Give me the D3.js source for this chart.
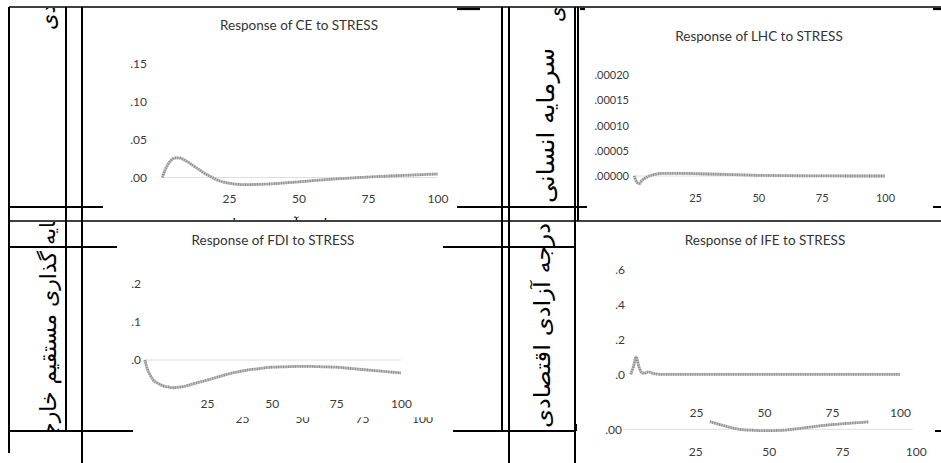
<!DOCTYPE html>
<html>
<head>
<meta charset="utf-8">
<script src="https://cdn.jsdelivr.net/npm/d3@7"></script>
<style>
  body { margin: 0; background: #fff; }
  svg { display: block; }
</style>
</head>
<body>
<svg width="941" height="463"></svg>
<script>
// ---- data ----
const titles = ["Response of CE to STRESS", "Response of LHC to STRESS",
                "Response of FDI to STRESS", "Response of IFE to STRESS"];
const xTicks = [25, 50, 75, 100];

const cePeriods = [1,2,3,4,5,6,7,8,10,12,14,16,18,20,22,25,28,31,35,40,45,50,55,60,65,70,75,80,85,90,95,100];
const ceValues = [0,0.010,0.017,0.022,0.025,0.026,0.026,0.025,0.021,0.016,0.011,0.006,0.002,-0.002,-0.005,
                  -0.0075,-0.009,-0.0095,-0.0092,-0.0085,-0.0072,-0.0058,-0.0042,-0.0028,-0.0015,-0.0004,
                  0.0006,0.0015,0.0023,0.0031,0.0039,0.0046];
const ceYTicks = [0, 0.05, 0.10, 0.15];
const ceYLabels = [".00", ".05", ".10", ".15"];

const lhcPeriods = [1,2,3,4,5,7,9,12,15,20,25,30,40,50,60,70,80,90,100];
const lhcValues = [0,-0.000012,-0.000015,-0.000009,-0.000005,0,0.000003,0.000005,0.0000053,0.0000053,
                   0.0000047,0.000004,0.0000027,0.0000013,0.0000007,0.0000003,0.0000001,0,0];
const lhcYTicks = [0, 0.00005, 0.0001, 0.00015, 0.0002];
const lhcYLabels = [".00000", ".00005", ".00010", ".00015", ".00020"];

const fdiPeriods = [1,2,3,4,6,8,10,12,15,20,25,30,35,40,45,50,55,60,65,70,75,80,85,90,95,100];
const fdiValues = [0,-0.025,-0.039,-0.051,-0.061,-0.068,-0.071,-0.073,-0.071,-0.062,-0.053,-0.043,-0.034,
                   -0.027,-0.023,-0.019,-0.018,-0.017,-0.017,-0.018,-0.019,-0.022,-0.025,-0.028,-0.031,-0.034];
const fdiYTicks = [0, 0.1, 0.2];
const fdiYLabels = [".0", ".1", ".2"];

const ifePeriods = [1,2,3,4,5,6,7,8,9,10,12,15,20,30,40,50,60,70,80,90,100];
const ifeValues = [0,0.044,0.10,0.044,0.010,0.006,0.012,0.013,0.006,0.002,0,0,0,0,0,0,0,0,0,0,0];
const ifeYTicks = [0, 0.2, 0.4, 0.6];
const ifeYLabels = [".0", ".2", ".4", ".6"];

// the half hidden chart under the IFE panel
const ife2Periods = [30,35,40,45,49,54,58,63,68,72,77,84];
const ife2Values = [0.0038,0.0017,0,-0.0005,-0.0007,-0.0005,0,0.0009,0.0018,0.0024,0.0030,0.0037];
const ife2YTicks = [0];
const ife2YLabels = [".00"];

// Persian cell labels
const labelCE = "پیچیدگی اقتصادی";
const labelFDIa = "سرمایه";
const labelFDIb = "گذاری مستقیم خارجی";
const labelLHC = "سرمایه انسانی";
const labelIFE = "درجه آزادی اقتصادی";
const labelStray = "پاسخ آنی متغیرها";

const svg = d3.select("svg");
const latin = "Lato, 'Open Sans', sans-serif";
const farsi = "'DejaVu Sans', sans-serif";

let clipId = 0;
function clipRect(x, y, w, h) {
    const id = "clip" + (clipId++);
    svg.append("clipPath").attr("id", id)
        .append("rect").attr("x", x).attr("y", y).attr("width", w).attr("height", h);
    return "url(#" + id + ")";
}

/////////////PANELS//////////////////

const panels = [
    {title: titles[0], periods: cePeriods, values: ceValues, yTicks: ceYTicks, yLabels: ceYLabels,
     xr: [159.5, 437.5], yr: [177.5, 64], top: 0.15, labelRight: 147, xLabelY: 199,
     tx: 299, ty: 30, fs: 12, zero: true},
    {title: titles[1], periods: lhcPeriods, values: lhcValues, yTicks: lhcYTicks, yLabels: lhcYLabels,
     xr: [631.7, 885], yr: [176, 75], top: 0.0002, labelRight: 629, xLabelY: 198,
     tx: 759, ty: 41, fs: 11, zero: true},
    {title: titles[2], periods: fdiPeriods, values: fdiValues, yTicks: fdiYTicks, yLabels: fdiYLabels,
     xr: [142.3, 401], yr: [360, 284], top: 0.2, labelRight: 141, xLabelY: 404,
     tx: 273, ty: 245, fs: 12, zero: true},
    {title: titles[3], periods: ifePeriods, values: ifeValues, yTicks: ifeYTicks, yLabels: ifeYLabels,
     xr: [628, 900], yr: [374.3, 270], top: 0.6, labelRight: 625, xLabelY: 413,
     tx: 765, ty: 245, fs: 12, zero: false},
    {title: null, periods: ife2Periods, values: ife2Values, yTicks: ife2YTicks, yLabels: ife2YLabels,
     xr: [621.7, 915.7], yr: [429.3, 409.3], top: 0.01, labelRight: 622, xLabelY: 452,
     fs: 12, zero: true, zeroFrom: 0.4, zeroTo: 99}
];

panels.forEach(drawPanel);

// clipped tick row peeking out under the FDI panel
const hidden = svg.append("g").attr("clip-path", clipRect(150, 417.3, 300, 10));
hidden.append("g")
    .attr("transform", "translate(0," + (418.7 - 4.2) + ")")
    .call(d3.axisBottom(d3.scaleLinear().domain([0, 100]).range([182, 422]))
        .tickValues(xTicks).tickSize(0).tickPadding(0))
    .call(styleAxis, 12);

function drawPanel(p) {
    const g = svg.append("g");
    const x = d3.scaleLinear().domain([0, 100]).range(p.xr);
    const y = d3.scaleLinear().domain([0, p.top]).range(p.yr);

    if (p.title) {
        g.append("text")
            .attr("x", p.tx).attr("y", p.ty)
            .attr("text-anchor", "middle")
            .style("font-family", latin)
            .style("font-size", "13.5px")
            .style("fill", "#333")
            .text(p.title);
    }

    g.append("g")
        .attr("transform", "translate(" + p.labelRight + ",0)")
        .call(d3.axisLeft(y).tickValues(p.yTicks)
            .tickFormat((d, i) => p.yLabels[i]).tickSize(0).tickPadding(0))
        .call(styleAxis, p.fs);

    g.append("g")
        .attr("transform", "translate(0," + (p.xLabelY - 4.2) + ")")
        .call(d3.axisBottom(x).tickValues(xTicks).tickSize(0).tickPadding(0))
        .call(styleAxis, p.fs);

    if (p.zero) {
        g.append("line")
            .attr("x1", x(p.zeroFrom || 1)).attr("x2", x(p.zeroTo || 100))
            .attr("y1", y(0)).attr("y2", y(0))
            .style("stroke", "#dedede").style("stroke-width", 1);
    }

    const pts = p.periods.map((t, i) => [x(t), y(p.values[i])]);
    const line = d3.line().curve(d3.curveMonotoneX);
    g.append("path").attr("d", line(pts))
        .style("fill", "none").style("stroke", "#bdbdbd").style("stroke-width", 2.8);
    g.append("path").attr("d", line(pts))
        .style("fill", "none").style("stroke", "#858585").style("stroke-width", 2.8)
        .style("stroke-dasharray", "0.8 1.6");
}

function styleAxis(a, fs) {
    a.select(".domain").remove();
    a.attr("font-family", null).attr("font-size", null);
    a.selectAll("text")
        .style("font-family", latin)
        .style("font-size", fs + "px")
        .style("fill", "#3a3a3a");
}

/////////////TABLE//////////////////

// rotated Persian labels: "start" puts the end of the word at (x,y) running upwards,
// "end" puts its beginning at (x,y) running downwards
function vText(str, x, y, size, anchor, clip, len) {
    const t = svg.append("g").attr("clip-path", clip)
        .append("text")
        .attr("transform", "translate(" + x + "," + y + ") rotate(-90)")
        .attr("text-anchor", anchor)
        .attr("dominant-baseline", "central")
        .style("font-family", farsi)
        .style("font-size", size + "px")
        .style("fill", "#000")
        .text(str);
    if (len) t.attr("textLength", len).attr("lengthAdjust", "spacingAndGlyphs");
}

vText(labelCE, 48, 30, 21, "start", clipRect(10, 8, 55, 198));
vText(labelFDIa, 48, 245, 21, "start", clipRect(10, 222, 55, 24));
vText(labelFDIb, 48, 251, 22, "end", clipRect(10, 248, 55, 182));
vText(labelCE, 556, 22, 20, "start", clipRect(511, 8, 63, 198));
vText(labelLHC, 546, 48, 24, "end", clipRect(511, 8, 63, 198), 155);
vText(labelIFE, 542, 223, 22, "end", clipRect(511, 222, 63, 208), 205);

// tops of a clipped caption under the CE panel
svg.append("g").attr("clip-path", clipRect(200, 214.5, 160, 5.5))
    .append("text")
    .attr("x", 282).attr("y", 229)
    .attr("text-anchor", "middle")
    .style("font-family", farsi).style("font-size", "14px")
    .text(labelStray);

// rule segments of the scanned table: [x1, y1, x2, y2, width]
const rules = [
    [9, 7, 941, 7, 1.6],
    [457, 9, 480, 9, 2.2], [580, 9, 585, 9, 2.2], [933, 9, 941, 9, 2.2],
    [9, 207, 103, 207, 2], [457, 207, 587, 207, 2], [933, 207, 941, 207, 2],
    [9, 221, 941, 221, 1.6],
    [9, 247, 117, 247, 2], [443, 247, 575, 247, 2],
    [9, 431, 133, 431, 2], [453, 431, 576, 431, 2], [576, 424, 576, 431, 2],
    [935, 431, 941, 431, 2],
    [9, 7, 9, 453, 2], [66, 7, 66, 431, 2], [82, 7, 82, 463, 2],
    [502, 7, 502, 431, 2], [509, 7, 509, 463, 2],
    [575, 7, 575, 463, 2], [578, 7, 578, 221, 2]
];

svg.append("g").selectAll("line")
    .data(rules)
    .enter().append("line")
    .attr("x1", d => d[0]).attr("y1", d => d[1])
    .attr("x2", d => d[2]).attr("y2", d => d[3])
    .style("stroke", "#000")
    .style("stroke-width", d => d[4]);
</script>
</body>
</html>
